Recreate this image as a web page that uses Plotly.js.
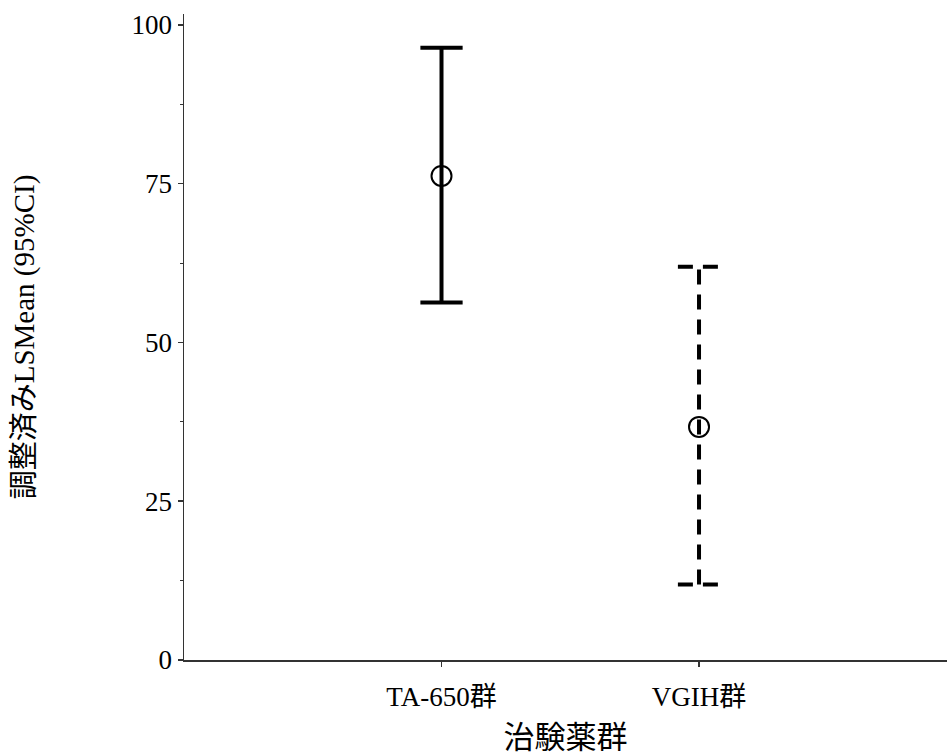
<!DOCTYPE html>
<html>
<head>
<meta charset="utf-8">
<script src="https://cdn.plot.ly/plotly-3.0.1.min.js"></script>
<style>html,body{margin:0;padding:0;background:#fff;}#chart{width:947px;height:755px;}</style>
</head>
<body>
<div id="chart"></div>
<script>
// Data
const categories = ['TA-650群', 'VGIH群'];
const lsMean = [76.2, 36.7];
const ciLower = [56.3, 11.9];
const ciUpper = [96.4, 61.9];
const dashStyles = ['solid', '15px,10px'];
const yTickVals = [0, 25, 50, 75, 100];

const FONT = '"Liberation Serif", "Noto Sans CJK JP", serif';
const capHalf = 0.082;
const traces = [];
categories.forEach((c, i) => {
  const line = {color: '#000', width: 4, dash: dashStyles[i]};
  // stem
  traces.push({x: [i, i], y: [ciLower[i], ciUpper[i]], mode: 'lines', line: line, showlegend: false, hoverinfo: 'skip'});
  // caps
  traces.push({x: [i - capHalf, i + capHalf], y: [ciUpper[i], ciUpper[i]], mode: 'lines', line: line, showlegend: false, hoverinfo: 'skip'});
  traces.push({x: [i - capHalf, i + capHalf], y: [ciLower[i], ciLower[i]], mode: 'lines', line: line, showlegend: false, hoverinfo: 'skip'});
});
traces.push({
  x: categories.map((c, i) => i), y: lsMean, mode: 'markers', showlegend: false,
  marker: {symbol: 'circle-open', size: 20, color: '#000', line: {width: 2, color: '#000'}}
});

const layout = {
  width: 947, height: 755,
  margin: {l: 184, r: 0, t: 14, b: 95},
  paper_bgcolor: '#fff', plot_bgcolor: '#fff',
  font: {family: FONT, color: '#000', size: 26},
  xaxis: {
    range: [-1, 1.963], tickvals: categories.map((c, i) => i), ticktext: categories,
    showgrid: false, zeroline: false, showline: true, linecolor: '#333', linewidth: 1.5,
    ticks: 'outside', ticklen: 5, tickwidth: 1.5, tickcolor: '#333',
    tickfont: {family: FONT, size: 27}, ticklabelstandoff: 7,
    title: {text: '治験薬群', font: {family: FONT, size: 31}, standoff: 16},
    automargin: false
  },
  yaxis: {
    range: [0, 101.7], tickvals: yTickVals, ticktext: yTickVals.map(String),
    showgrid: false, zeroline: false, showline: true, linecolor: '#333', linewidth: 1.5,
    ticks: 'outside', ticklen: 5, tickwidth: 1.5, tickcolor: '#333',
    minor: {tickvals: [12.5, 37.5, 62.5, 87.5], ticks: 'outside', ticklen: 3, tickcolor: '#333', tickwidth: 1},
    tickfont: {family: FONT, size: 27},
    title: {text: '調整済みLSMean (95%CI)', font: {family: FONT, size: 29}, standoff: 88},
    automargin: false
  }
};
Plotly.newPlot('chart', traces, layout, {staticPlot: true, displayModeBar: false});
</script>
</body>
</html>
